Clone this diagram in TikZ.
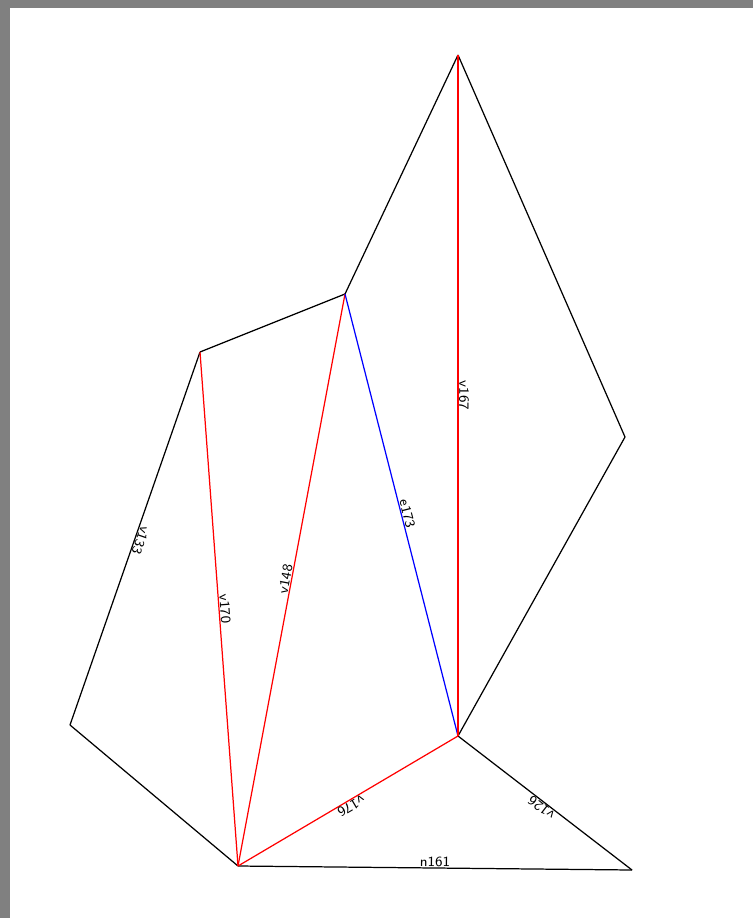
\documentclass[tikz,border=0pt]{standalone}
\usetikzlibrary{positioning}
\definecolor{frameGray}{HTML}{808080}
\definecolor{edgeRed}{HTML}{FF0000}
\definecolor{edgeBlue}{HTML}{0000FF}

\begin{document}
\begin{tikzpicture}[
    x=0.02cm, y=-0.02cm,
    edge/.style={draw=black, line width=0.7pt, line join=round},
    redge/.style={edge, draw=edgeRed},
    bedge/.style={edge, draw=edgeBlue},
    elabel/.style={sloped, allow upside down, anchor=south, inner sep=0.3pt,
                   font=\sffamily\footnotesize, text=black},
  ]
    % ─── page and frame ───
    \useasboundingbox (0,0) rectangle (753,918);
    \fill[frameGray] (0,0) rectangle (753,918);
    \fill[white] (10,8) rectangle (753,918);

    % ─── vertices ───
    \coordinate (vTop)   at (458, 55);
    \coordinate (vMid)   at (345,294);
    \coordinate (vLeft)  at (200,352);
    \coordinate (vFar)   at (70,725);
    \coordinate (vBot)   at (238,866);
    \coordinate (vHub)   at (458,736);
    \coordinate (vRight) at (625,437);
    \coordinate (vCorner) at (632,870);

    % ─── outer boundary ───
    \draw[edge] (vTop) -- (vMid);
    \draw[edge] (vMid) -- (vLeft);
    \draw[edge] (vLeft) -- node[elabel] {v133} (vFar);
    \draw[edge] (vFar) -- (vBot);
    \draw[edge] (vBot) -- node[elabel] {n161} (vCorner);
    \draw[edge] (vCorner) -- node[elabel] {v126} (vHub);
    \draw[edge] (vHub) -- (vRight);
    \draw[edge] (vRight) -- (vTop);

    % ─── inner edges ───
    \draw[redge] (vLeft) -- node[elabel] {v170} (vBot);
    \draw[redge] (vBot) -- node[elabel] {v148} (vMid);
    \draw[bedge] (vMid) -- node[elabel] {e173} (vHub);
    \draw[redge] (vTop) -- node[elabel] {v167} (vHub);
    \draw[redge] (vHub) -- node[elabel] {v176} (vBot);
  \end{tikzpicture}
\end{document}
